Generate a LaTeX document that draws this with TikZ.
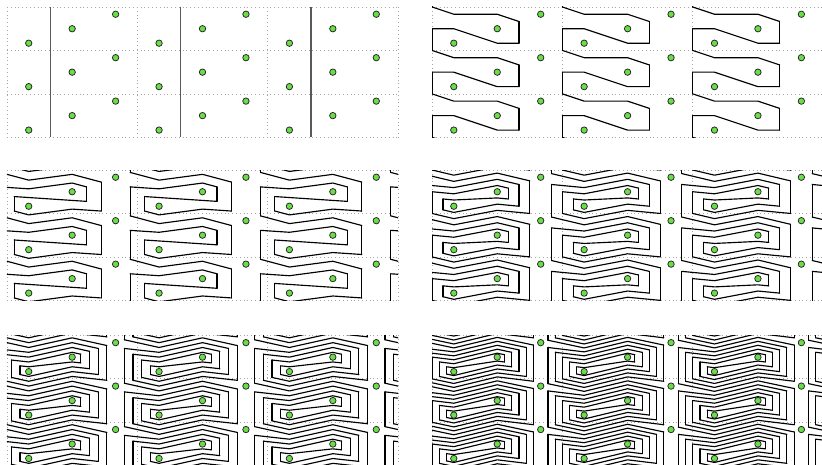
\documentclass[tikz,border=0pt]{standalone}
\usepackage{tikz}
\usetikzlibrary{positioning}

\definecolor{dotgreen}{RGB}{105,222,70}

\tikzset{
  gridline/.style={gray!70, dotted, line width=0.5pt},
  wall/.style={black!65, line width=0.9pt},
  strand/.style={black, line width=0.75pt, line join=round, line cap=round},
  puncture/.style={circle, draw=black!85, fill=dotgreen, line width=0.5pt,
    inner sep=0pt, minimum size=4.2pt},
}

% dotted cells of one panel
\newcommand{\panelgrid}{%
  \foreach \gx in {0,3,6,9} \draw[gridline] (\gx,0) -- (\gx,3);
  \foreach \gy in {0,1,2,3} \draw[gridline] (0,\gy) -- (9,\gy);
}

% the three punctures a, b, c of every cell
\newcommand{\panelpunctures}[1]{%
  \foreach \k in {0,1,2} \foreach \m in {0,1,2} {
    \node[puncture] (#1-a-\k-\m) at (3*\k+0.5,\m+5/6) {};
    \node[puncture] (#1-b-\k-\m) at (3*\k+1.5,\m+1/2) {};
    \node[puncture] (#1-c-\k-\m) at (3*\k+2.5,\m+1/6) {};
  }
}

% curve after #1 half twists of the a--b pair
\newcommand{\twistpanel}[1]{%
  \pgfmathsetmacro{\gap}{1/(2*#1+1)}
  \pgfmathtruncatemacro{\last}{2*#1-1}
  % strands that run across the cell
  \foreach \i in {0,...,\last} {
    \pgfmathsetmacro{\yl}{ifthenelse(\i==0, 1/6-\gap, 1/6+\i*\gap)}
    \pgfmathsetmacro{\ya}{ifthenelse(\i<=#1, 5/6-(#1+1-\i)*\gap, 5/6+(\i-#1)*\gap)}
    \pgfmathsetmacro{\yb}{ifthenelse(\i<#1, 1/2-(#1-\i)*\gap, 1/2+(\i-#1+1)*\gap)}
    \pgfmathsetmacro{\yr}{1/6+(\i+1)*\gap}
    \pgfmathsetmacro{\rl}{(#1+1-ifthenelse(\i==0,1,ifthenelse(\i<=#1,\i,2*#1+1-\i)))/(#1+1)}
    \pgfmathsetmacro{\rr}{(#1+1-ifthenelse(\i<#1,\i+1,2*#1-\i))/(#1+1)}
    \pgfmathsetmacro{\yle}{\ya-(\ya-\yl)*\rl}
    \pgfmathsetmacro{\yre}{\yb+(\yr-\yb)*\rr}
    \foreach \k in {0,...,3} \foreach \m in {-1,...,3}
      \draw[strand, shift={(3*\k,\m)}]
        (0.5-\rl,\yle) -- (0.5,\ya) -- (1.5,\yb) -- (1.5+\rr,\yre);
  }
  % vertical turns on both sides
  \foreach \j in {1,...,#1} {
    \pgfmathsetmacro{\rj}{(#1+1-\j)/(#1+1)}
    \pgfmathsetmacro{\rtop}{1/2-(#1-\j+1)*\gap + (1/6+\j*\gap-1/2+(#1-\j+1)*\gap)*\rj}
    \pgfmathsetmacro{\rbot}{1/2+(#1-\j+1)*\gap + (1/6+(2*#1-\j+1)*\gap-1/2-(#1-\j+1)*\gap)*\rj}
    \pgfmathsetmacro{\ltop}{5/6-(#1+1-\j)*\gap - (5/6-(#1+1-\j)*\gap-1/6-\j*\gap)*\rj}
    \pgfmathsetmacro{\lbot}{5/6+(#1+1-\j)*\gap - (5/6+(#1+1-\j)*\gap-1/6-(2*#1+1-\j)*\gap)*\rj}
    \foreach \k in {0,...,3} \foreach \m in {-1,...,3} {
      \draw[strand, shift={(3*\k,\m)}] (1.5+\rj,\rtop) -- (1.5+\rj,\rbot);
      \draw[strand, shift={(3*\k,\m)}] (0.5-\rj,\ltop) -- (0.5-\rj,\lbot);
    }
  }
}

\begin{document}
\begin{tikzpicture}[x=1cm, y=-1cm]

    \useasboundingbox (0,0) rectangle (18.92,10.68);

    % --- Panel 1: straight walls ---
    \begin{scope}[shift={(0.161,0.161)}]
      \panelgrid
      \foreach \wx in {1,4,7} \draw[wall] (\wx,0) -- (\wx,3);
      \panelpunctures{p1}
    \end{scope}

    % --- Panel 2: one half twist ---
    \begin{scope}[shift={(9.945,0.161)}]
      \panelgrid
      \begin{scope}
        \clip (0,0) rectangle (9,3);
        \twistpanel{1}
      \end{scope}
      \panelpunctures{p2}
    \end{scope}

    % --- Panel 3: two half twists ---
    \begin{scope}[shift={(0.161,3.913)}]
      \panelgrid
      \begin{scope}
        \clip (0,0) rectangle (9,3);
        \twistpanel{2}
      \end{scope}
      \panelpunctures{p3}
    \end{scope}

    % --- Panel 4: three half twists ---
    \begin{scope}[shift={(9.945,3.913)}]
      \panelgrid
      \begin{scope}
        \clip (0,0) rectangle (9,3);
        \twistpanel{3}
      \end{scope}
      \panelpunctures{p4}
    \end{scope}

    % --- Panel 5: four half twists ---
    \begin{scope}[shift={(0.161,7.72)}]
      \panelgrid
      \begin{scope}
        \clip (0,0) rectangle (9,3);
        \twistpanel{4}
      \end{scope}
      \panelpunctures{p5}
    \end{scope}

    % --- Panel 6: five half twists ---
    \begin{scope}[shift={(9.945,7.72)}]
      \panelgrid
      \begin{scope}
        \clip (0,0) rectangle (9,3);
        \twistpanel{5}
      \end{scope}
      \panelpunctures{p6}
    \end{scope}

\end{tikzpicture}
\end{document}
